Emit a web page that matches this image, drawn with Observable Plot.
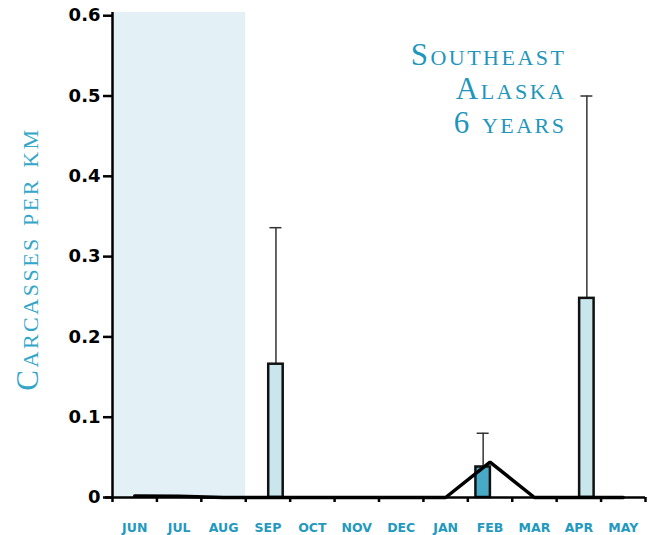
<!DOCTYPE html>
<html>
<head>
<meta charset="utf-8">
<script src="https://cdn.jsdelivr.net/npm/d3@7"></script>
<script src="https://cdn.jsdelivr.net/npm/@observablehq/plot@0.6"></script>
<style>
  html, body { margin: 0; padding: 0; background: #fff; }
</style>
</head>
<body>
<div id="chart"></div>
<script>
// Months of the survey year, June through May
const months = ["JUN", "JUL", "AUG", "SEP", "OCT", "NOV", "DEC", "JAN", "FEB", "MAR", "APR", "MAY"];
// Months shaded as the season without surveys
const shadedMonths = ["JUN", "JUL", "AUG"];
// Mean carcasses per km (line)
const lineValues = [0.002, 0.0015, 0, 0, 0, 0, 0, 0, 0.044, 0, 0, 0];
// Light bars: means and upper error values
const lightMonths = ["SEP", "APR"];
const lightMeans = [0.166, 0.248];
const lightUpper = [0.336, 0.5];
// Dark bars: means and upper error values
const darkMonths = ["FEB"];
const darkMeans = [0.038];
const darkUpper = [0.08];
// Y-axis tick values
const yTicks = [0, 0.1, 0.2, 0.3, 0.4, 0.5, 0.6];
const titleText = "Southeast\nAlaska\n6 years";
const yLabel = "Carcasses per km";

const yTop = 0.604;
const teal = "#2399c0";
const halfBar = 0.163;   // half bar width, in month units
const halfCap = 0.135;   // half error-cap width
const shift = {light: 0.18, dark: -0.155};

const mid = m => months.indexOf(m) + 0.5;
const makeBars = (ms, means, upper, kind) =>
  ms.map((m, i) => ({c: mid(m) + shift[kind], mean: means[i], upper: upper[i], kind}));
const bars = [
  ...makeBars(lightMonths, lightMeans, lightUpper, "light"),
  ...makeBars(darkMonths, darkMeans, darkUpper, "dark")
];
const lineData = months.map((m, i) => ({x: mid(m), y: lineValues[i]}));

const chart = Plot.plot({
  width: 652,
  height: 535,
  marginLeft: 112,
  marginRight: 7,
  marginTop: 12,
  marginBottom: 38,
  style: {fontFamily: "DejaVu Sans", background: "#fff"},
  x: {type: "linear", domain: [0, 12], axis: null},
  y: {domain: [0, yTop], axis: null},
  marks: [
    // shaded season
    Plot.rect([shadedMonths], {
      x1: d => months.indexOf(d[0]),
      x2: d => months.indexOf(d[d.length - 1]) + 1,
      y1: 0, y2: yTop,
      fill: "#e3f1f7"
    }),
    // error bars
    Plot.ruleX(bars, {x: "c", y1: "mean", y2: "upper", stroke: "#333", strokeWidth: 1.5}),
    Plot.ruleY(bars, {y: "upper", x1: d => d.c - halfCap, x2: d => d.c + halfCap, stroke: "#333", strokeWidth: 1.5}),
    // bars
    Plot.rectY(bars, {
      x1: d => d.c - halfBar,
      x2: d => d.c + halfBar,
      y: "mean",
      fill: d => d.kind === "light" ? "#c8e6ec" : "#48aac7",
      stroke: "#111",
      strokeWidth: 2.5
    }),
    // axes lines and ticks
    Plot.ruleY([0], {stroke: "#000", strokeWidth: 2.5, insetLeft: -7, insetRight: 0}),
    Plot.axisX({ticks: d3.range(13), tickFormat: () => "", tickSize: 5, strokeWidth: 2.5, label: null}),
    Plot.ruleX([0], {stroke: "#000", strokeWidth: 2.5}),
    Plot.axisY({
      ticks: yTicks,
      tickFormat: d => d === 0 ? "0" : d.toFixed(1),
      tickSize: 9,
      tickPadding: 3,
      strokeWidth: 2.5,
      fontSize: 18,
      fontWeight: "bold",
      fill: "#000",
      label: null
    }),
    // mean line
    Plot.line(lineData, {x: "x", y: "y", stroke: "#000", strokeWidth: 3.5, strokeLinejoin: "miter"}),
    // month labels
    Plot.text(months, {
      x: d => mid(d),
      text: d => d,
      frameAnchor: "bottom",
      lineAnchor: "bottom",
      dy: 34,
      fontSize: 12.5,
      fontWeight: "bold",
      fill: teal
    }),
    // region title
    Plot.text([titleText], {
      frameAnchor: "top-right",
      textAnchor: "end",
      lineAnchor: "top",
      lineHeight: 1.1,
      dx: -79,
      dy: 28,
      fontFamily: "Liberation Serif",
      fontVariant: "small-caps",
      fontSize: 31,
      fill: "#1f96bb"
    }),
    // y-axis label
    Plot.text([yLabel], {
      frameAnchor: "left",
      textAnchor: "middle",
      rotate: -90,
      lineAnchor: "bottom",
      dx: -75,
      dy: 4,
      fontFamily: "Liberation Serif",
      fontVariant: "small-caps",
      fontSize: 31,
      fill: "#33a6c9"
    })
  ]
});
// wider tracking for the small-caps labels
d3.select(chart).selectAll('g[font-variant="small-caps"] text').style("letter-spacing", "2.5px");
document.getElementById("chart").appendChild(chart);
</script>
</body>
</html>
